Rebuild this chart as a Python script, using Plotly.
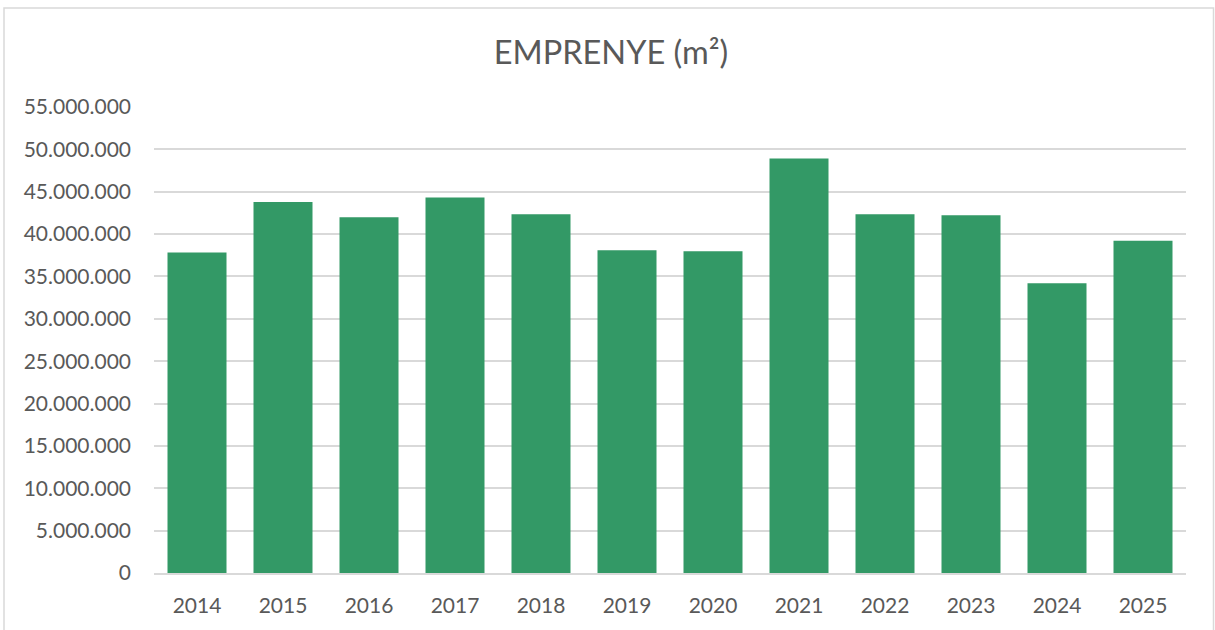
import plotly.graph_objects as go

years = ["2014", "2015", "2016", "2017", "2018", "2019", "2020", "2021", "2022", "2023", "2024", "2025"]
values = [37830000, 43800000, 42000000, 44320000, 42350000, 38100000,
          37980000, 48930000, 42350000, 42230000, 34200000, 39200000]
yticks = [0, 5000000, 10000000, 15000000, 20000000, 25000000, 30000000,
          35000000, 40000000, 45000000, 50000000, 55000000]

W, H = 1215, 630
L, R, T, B = 154, 1186, 107, 573
pw, ph = R - L, B - T

fig = go.Figure(go.Bar(x=years, y=values, marker=dict(color="#339966", line=dict(width=0))))

def px_x(p):
    return (p - L) / pw

def px_y(p):
    return (B - p) / ph

fig.update_layout(
    width=W, height=H,
    margin=dict(l=L, r=W - R, t=T, b=H - B, pad=0),
    paper_bgcolor="white", plot_bgcolor="white",
    separators=",.",
    bargap=0.314,
    showlegend=False,
    font=dict(family="Lato, Open Sans, sans-serif", color="#595959", size=21),
    title=dict(text="EMPRENYE (m²)", x=px_x(611), xanchor="center", xref="paper",
               y=1 - 53 / H, yanchor="middle", font=dict(size=32.5, color="#595959")),
    xaxis=dict(showgrid=False, showline=True, linecolor="#d9d9d9", linewidth=1.5,
               ticks="", tickfont=dict(size=21), ticklabelstandoff=13),
    yaxis=dict(range=[0, 55000000], tickvals=yticks, tickformat=",.0f",
               showgrid=True, gridcolor="#d9d9d9", gridwidth=1.5, zeroline=False,
               ticks="", tickfont=dict(size=21), ticklabelstandoff=22),
    shapes=[dict(type="rect", xref="paper", yref="paper",
                 x0=px_x(4), x1=px_x(1213.5), y0=px_y(634), y1=px_y(8),
                 line=dict(color="#d9d9d9", width=1.5), fillcolor="rgba(0,0,0,0)", layer="below")],
)

fig.write_html("out.html", config={"displayModeBar": False},
               post_script="document.body.style.margin='0';document.body.style.overflow='hidden';")
